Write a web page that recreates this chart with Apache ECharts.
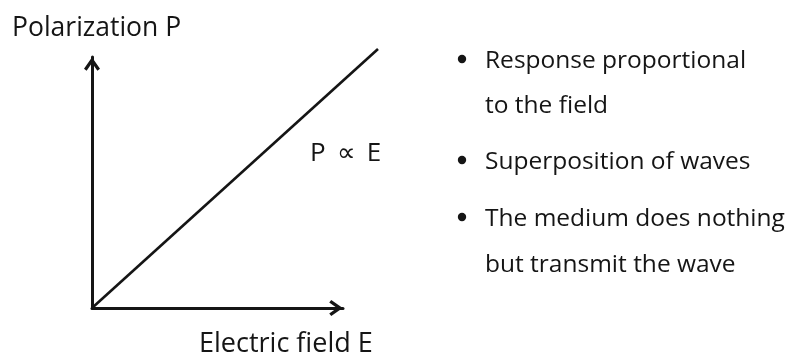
<!DOCTYPE html>
<html>
<head>
<meta charset="utf-8">
<script src="https://cdn.jsdelivr.net/npm/echarts@6/dist/echarts.min.js"></script>
<style>html,body{margin:0;padding:0;background:#fff}#c{width:787px;height:358px}</style>
</head>
<body>
<div id="c"></div>
<script>
// Data
const fieldE = [0, 1.145];          // electric field (relative units)
const polarizationP = [0, 1.032];   // polarization, proportional to E
const yAxisTitle = 'Polarization P';
const xAxisTitle = 'Electric field E';
const relationLabel = 'P \u2009\u221D\u2009 E';
const bulletLines = [
  ['Response proportional', 'to the field'],
  ['Superposition of waves'],
  ['The medium does nothing', 'but transmit the wave']
];

const FONT = '"Open Sans", sans-serif';
const INK = '#151515';
const chevron = 'path://M8,0 L16,11.5 L13.4,13.5 L8,5.8 L2.6,13.5 L0,11.5 Z';

const chart = echarts.init(document.getElementById('c'), null, {renderer: 'canvas'});

// text layout (positions only)
const bulletX = 462, textX = 485;
const lineBaselines = [[67, 112], [168], [225, 271]];
const graphics = [];
bulletLines.forEach((lines, i) => {
  graphics.push({
    type: 'circle', shape: {cx: bulletX, cy: lineBaselines[i][0] - 8, r: 4.2},
    style: {fill: INK}
  });
  lines.forEach((t, j) => {
    graphics.push({
      type: 'text', x: textX, y: lineBaselines[i][j] + 7,
      style: {text: t, font: '24.5px ' + FONT, fill: INK, textVerticalAlign: 'bottom'}
    });
  });
});

const hiddenAxis = (idx, max) => ({
  type: 'value', gridIndex: idx, min: 0, max: max, show: false,
  axisLine: {show: false}, axisTick: {show: false}, axisLabel: {show: false}, splitLine: {show: false}
});
const arrowAxis = () => ({
  type: 'value', gridIndex: 0, min: 0, max: 1,
  axisLine: {show: true, symbol: ['none', chevron], symbolSize: [16, 14], symbolOffset: [0, -7],
    lineStyle: {color: INK, width: 3}},
  axisTick: {show: false}, axisLabel: {show: false}, splitLine: {show: false}
});

chart.setOption({
  backgroundColor: '#fff',
  animation: false,
  grid: [
    {left: 92, top: 57, right: 444, bottom: 50},
    {left: 92, top: 49, right: 409, bottom: 50}
  ],
  xAxis: [arrowAxis(), hiddenAxis(1, fieldE[fieldE.length - 1])],
  yAxis: [arrowAxis(), hiddenAxis(1, polarizationP[polarizationP.length - 1])],
  title: [
    {text: yAxisTitle, left: 12, top: 15, padding: 0,
      textStyle: {fontFamily: FONT, fontSize: 26.5, fontWeight: 'normal', color: INK}},
    {text: relationLabel, left: 310, top: 141, padding: 0,
      textStyle: {fontFamily: FONT, fontSize: 26, fontWeight: 'normal', color: INK}},
    {text: xAxisTitle, left: 199, top: 331, padding: 0,
      textStyle: {fontFamily: FONT, fontSize: 27, fontWeight: 'normal', color: INK}}
  ],
  graphic: graphics,
  series: [{
    type: 'line', xAxisIndex: 1, yAxisIndex: 1,
    data: fieldE.map((e, i) => [e, polarizationP[i]]),
    showSymbol: false, symbol: 'none', clip: false,
    lineStyle: {color: INK, width: 2.6}
  }]
});
</script>
</body>
</html>
